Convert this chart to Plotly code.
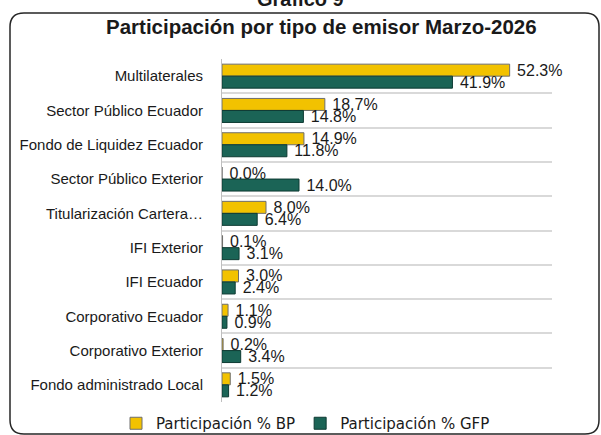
import plotly.graph_objects as go

categories = ["Multilaterales", "Sector Público Ecuador", "Fondo de Liquidez Ecuador",
              "Sector Público Exterior", "Titularización Cartera…", "IFI Exterior",
              "IFI Ecuador", "Corporativo Ecuador", "Corporativo Exterior",
              "Fondo administrado Local"]
bp_values = [52.3, 18.7, 14.9, 0.0, 8.0, 0.1, 3.0, 1.1, 0.2, 1.5]
gfp_values = [41.9, 14.8, 11.8, 14.0, 6.4, 3.1, 2.4, 0.9, 3.4, 1.2]
series_names = ["Participación % BP", "Participación % GFP"]

W, H = 601, 435
L, R, T, B = 222, 49, 59, 33
pw, ph = W - L - R, H - T - B

def px_x(x):
    return (x - L) / pw

def px_y(y):
    return (H - B - y) / ph

positions = list(range(len(categories)))
label_font = dict(family="Liberation Sans, Arial", size=16, color="#1a1a1a")

fig = go.Figure()
fig.add_trace(go.Bar(
    y=positions, x=bp_values, orientation="h", name=series_names[0],
    marker=dict(color="#F2C200", line=dict(color="#6E6E6E", width=1)),
    text=[f"\u00a0{v:.1f}%" for v in bp_values], textposition="outside",
    constraintext="none", cliponaxis=False, textfont=label_font,
))
fig.add_trace(go.Bar(
    y=positions, x=gfp_values, orientation="h", name=series_names[1],
    marker=dict(color="#1B6456", line=dict(color="#0D3A32", width=1)),
    text=[f"\u00a0{v:.1f}%" for v in gfp_values], textposition="outside",
    constraintext="none", cliponaxis=False, textfont=label_font,
))

# rounded border
x0, x1 = px_x(10), px_x(599)
y0, y1 = px_y(434), px_y(13)
rx, ry = 14 / pw, 14 / ph
path = (f"M {x0+rx},{y1} L {x1-rx},{y1} Q {x1},{y1} {x1},{y1-ry} "
        f"L {x1},{y0+ry} Q {x1},{y0} {x1-rx},{y0} "
        f"L {x0+rx},{y0} Q {x0},{y0} {x0},{y0+ry} "
        f"L {x0},{y1-ry} Q {x0},{y1} {x0+rx},{y1} Z")
fig.add_shape(type="path", path=path, xref="paper", yref="paper",
              line=dict(color="#262626", width=1.5), layer="below")

fig.add_annotation(text="<b>Gráfico 9</b>", xref="paper", yref="paper",
                   x=px_x(300), y=px_y(12), xanchor="center", yanchor="bottom",
                   showarrow=False, font=dict(family="Liberation Sans, Arial", size=20, color="#1a1a1a"))
fig.add_annotation(text="<b>Participación por tipo de emisor Marzo-2026</b>", xref="paper", yref="paper",
                   x=px_x(321), y=px_y(26), xanchor="center", yanchor="middle",
                   showarrow=False, font=dict(family="Liberation Sans, Arial", size=20.5, color="#1a1a1a"))

fig.update_layout(
    width=W, height=H,
    margin=dict(l=L, r=R, t=T, b=B, pad=0, autoexpand=False),
    paper_bgcolor="white", plot_bgcolor="white",
    barmode="group", bargap=0.3, bargroupgap=0,
    showlegend=True,
    legend=dict(orientation="h", x=px_x(116), xanchor="left", y=px_y(407), yanchor="top",
                font=dict(family="DejaVu Sans", size=15, color="#1a1a1a"),
                itemwidth=30, tracegroupgap=0, bgcolor="rgba(0,0,0,0)"),
    xaxis=dict(range=[0, 60], showgrid=False, showticklabels=False, zeroline=False,
               showline=False, ticks=""),
    yaxis=dict(range=[len(categories) - 0.5, -0.5], tickmode="array", tickvals=positions,
               ticktext=categories, showgrid=False, zeroline=False,
               showline=True, linecolor="#BFBFBF", linewidth=1, ticks="",
               ticklabelstandoff=15,
               tickfont=dict(family="Liberation Sans, Arial", size=15, color="#1a1a1a"),
               minor=dict(tickmode="array", tickvals=[p - 0.5 for p in positions] + [len(categories) - 0.5],
                          showgrid=True, gridcolor="#D9D9D9", gridwidth=1.5, ticks="")),
)

fig.write_html("out.html", config={"displayModeBar": False},
               post_script="document.body.style.margin='0';")
